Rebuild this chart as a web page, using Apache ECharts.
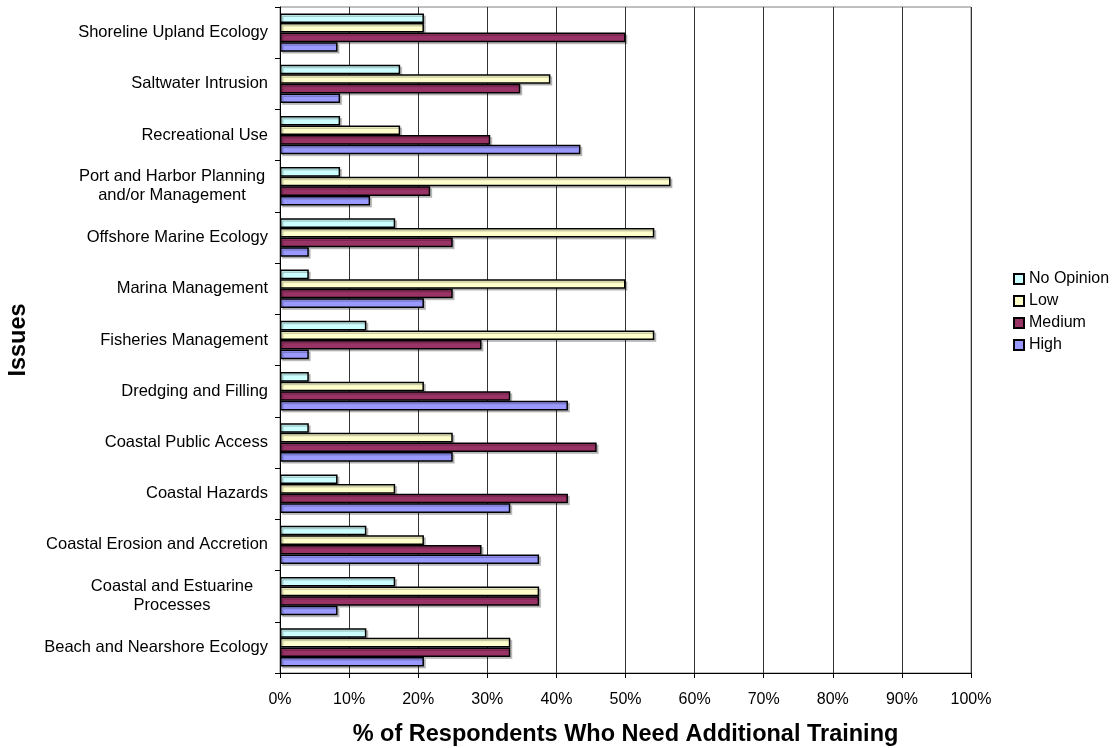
<!DOCTYPE html>
<html>
<head>
<meta charset="utf-8">
<script src="https://cdn.jsdelivr.net/npm/echarts@6/dist/echarts.min.js"></script>
<style>html,body{margin:0;padding:0;background:#fff;}#chart{width:1117px;height:748px;}</style>
</head>
<body>
<div id="chart"></div>
<script>
// Categories listed top to bottom as in the picture
const categories = [
  'Shoreline Upland Ecology',
  'Saltwater Intrusion',
  'Recreational Use',
  'Port and Harbor Planning\nand/or Management',
  'Offshore Marine Ecology',
  'Marina Management',
  'Fisheries Management',
  'Dredging and Filling',
  'Coastal Public Access',
  'Coastal Hazards',
  'Coastal Erosion and Accretion',
  'Coastal and Estuarine\nProcesses',
  'Beach and Nearshore Ecology'
];
const seriesNames = ['No Opinion', 'Low', 'Medium', 'High'];
const noOpinion = [20.83, 17.39, 8.70, 8.70, 16.67, 4.17, 12.5, 4.17, 4.17, 8.33, 12.5, 16.67, 12.5];
const low       = [20.83, 39.13, 17.39, 56.52, 54.17, 50, 54.17, 20.83, 25, 16.67, 20.83, 37.5, 33.33];
const medium    = [50, 34.78, 30.43, 21.74, 25, 25, 29.17, 33.33, 45.83, 41.67, 29.17, 37.5, 33.33];
const high      = [8.33, 8.70, 43.48, 13.04, 4.17, 20.83, 4.17, 41.67, 25, 33.33, 37.5, 8.33, 20.83];
const xTicks = [0, 10, 20, 30, 40, 50, 60, 70, 80, 90, 100];

const colors = ['#CCFFFF', '#FFFFCC', '#993366', '#9999FF'];
const values = [noOpinion, low, medium, high];
const FONT = "'Liberation Sans', Arial, sans-serif";

const chart = echarts.init(document.getElementById('chart'), null, {renderer: 'canvas'});
const option = {
  animation: false,
  backgroundColor: '#fff',
  grid: {
    left: 280, right: 146, top: 7, bottom: 75,
    outerBoundsMode: 'none',
    containLabel: false,
    show: true, borderColor: '#808080', borderWidth: 1, backgroundColor: 'transparent'
  },
  legend: {
    orient: 'vertical',
    left: 1008, top: 266,
    itemWidth: 10, itemHeight: 10, itemGap: 6,
    icon: 'rect',
    data: seriesNames,
    textStyle: {fontFamily: FONT, fontSize: 16, color: '#000'}
  },
  xAxis: {
    type: 'value',
    min: xTicks[0], max: xTicks[xTicks.length - 1], interval: 10,
    axisLine: {show: true, lineStyle: {color: '#000', width: 1}},
    axisTick: {show: true, length: 5, lineStyle: {color: '#000'}},
    axisLabel: {formatter: '{value}%', fontFamily: FONT, fontSize: 16, color: '#000', margin: 19},
    splitLine: {show: true, lineStyle: {color: '#333', width: 1}},
    name: '% of Respondents Who Need Additional Training',
    nameLocation: 'middle',
    nameGap: 50,
    nameTextStyle: {fontFamily: FONT, fontSize: 23.5, fontWeight: 'bold', color: '#000'}
  },
  yAxis: {
    type: 'category',
    data: categories,
    inverse: true,
    axisLine: {show: true, lineStyle: {color: '#000', width: 1}},
    axisTick: {show: true, length: 5, alignWithLabel: false, lineStyle: {color: '#000'}},
    axisLabel: {
      fontFamily: FONT, fontSize: 16.5, color: '#000', margin: 12, lineHeight: 19,
      formatter: function (v) {
        if (v.indexOf('\n') >= 0) {
          const parts = v.split('\n');
          return parts.map(function (p) { return '{c|' + p + '}'; }).join('\n');
        }
        return v;
      },
      rich: {
        c: {width: 192, align: 'center', fontFamily: FONT, fontSize: 16.5, color: '#000', lineHeight: 19}
      }
    },
    splitLine: {show: false},
    name: 'Issues',
    nameLocation: 'middle',
    nameRotate: 90,
    nameGap: 249,
    nameTextStyle: {fontFamily: FONT, fontSize: 23.5, fontWeight: 'bold', color: '#000'}
  },
  series: seriesNames.map(function (name, i) {
    return {
      name: name,
      type: 'bar',
      data: values[i],
      barWidth: 9.6,
      barGap: '0%',
      itemStyle: {
        color: colors[i],
        borderColor: '#000',
        borderWidth: 1.5,
        shadowColor: 'rgba(0,0,0,0.2)',
        shadowOffsetX: 2,
        shadowOffsetY: 2,
        shadowBlur: 0
      },
      emphasis: {disabled: true}
    };
  })
};
chart.setOption(option);
</script>
</body>
</html>
